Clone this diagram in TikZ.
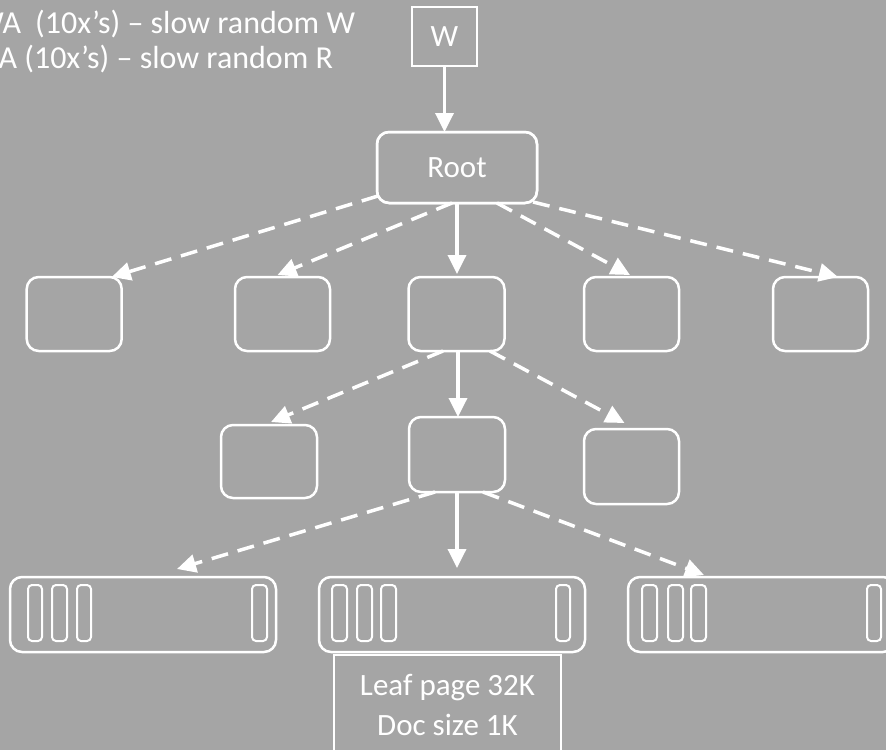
\documentclass[tikz,border=0pt]{standalone}
\usepackage{fontspec}
\setmainfont{Carlito}
\usetikzlibrary{arrows.meta,calc}
\definecolor{bg}{RGB}{165,165,165}
\begin{document}
\begin{tikzpicture}[x=1pt,y=-1pt,
  txt/.style={text=white,font=\fontsize{31}{40}\selectfont,inner sep=0pt,outer sep=0pt},
  box/.style={draw=white,line width=2.5pt,rounded corners=12pt,minimum width=95pt,minimum height=74pt,inner sep=0pt,outer sep=0pt},
  leaf/.style={box,minimum width=266pt,minimum height=75pt},
  plainbox/.style={draw=white,line width=1.5pt,inner sep=0pt,outer sep=0pt,text=white,font=\fontsize{31}{40}\selectfont},
  slot/.style={draw=white,line width=2pt,rounded corners=4pt},
  link/.style={draw=white,line width=3.5pt,-{Triangle[length=19pt,width=18pt]}},
  dlink/.style={link,dash pattern=on 17pt off 10pt}
]
\useasboundingbox (0,0) rectangle (886,750);
\fill[bg] (0,0) rectangle (886,750);
\clip (0,0) rectangle (886,750);

% top-left text
\node[txt,font=\fontsize{32}{40}\selectfont,anchor=base east] (t1) at (355,33) {WA\hspace{7pt} (10x’s) – slow random W};
\node[txt,font=\fontsize{32}{40}\selectfont,anchor=base east] (t2) at (333,68) {RA (10x’s) – slow random R};

% W and root
\node[plainbox,minimum width=65pt,minimum height=59pt] (w) at (444.5,36.5) {W};
\node[box,minimum width=160pt,minimum height=71pt,txt] (root) at (457,167.5) {Root};
\node[box,draw=white,line width=2.5pt,minimum width=160pt,minimum height=71pt] at (457,167.5) {};

% level 1
\node[box] (b1) at (74.2,314) {};
\node[box] (b2) at (282.5,314) {};
\node[box,minimum width=96pt] (b3) at (456.5,314) {};
\node[box] (b4) at (631.5,314) {};
\node[box] (b5) at (820.5,314) {};

% level 2
\node[box,minimum width=96pt,minimum height=73pt] (c1) at (269,461.5) {};
\node[box,minimum width=96pt,minimum height=75pt] (c2) at (457,454.5) {};
\node[box,minimum width=95pt,minimum height=75pt] (c3) at (631.5,466.5) {};

% leaves
\node[leaf] (l1) at (143,614.5) {};
\node[leaf] (l2) at (452,614.5) {};
\node[leaf,minimum width=267pt] (l3) at (761.5,614.5) {};

% slots
\foreach \a/\b in {28/42,52/67,77/91,252/267,
                   332/347,357/372,381/396,556/570,
                   642/657,668/683,691/706,867/881}
  \draw[slot] (\a,585) rectangle (\b,641);

% info box
\node[plainbox,minimum width=227pt,minimum height=100pt,align=center] (info) at (447.5,705)
  {Leaf page 32K\\Doc size 1K};

% connectors
\draw[link] (w.south) -- (w.south |- root.north);

\draw[dlink] ($(root.south west)+(1,-7)$) -- ($(b1.north east)+(-10,0)$);
\draw[dlink] ($(root.south)+(-5,0)$) -- ($(b2.north)+(-5,-2)$);
\draw[link] (root.south) -- ($(root.south |- b3.north)+(0,-3)$);
\draw[dlink] ($(root.south)+(40,0)$) -- ($(b4.north)+(-1.5,-2)$);
\draw[dlink] ($(root.south east)+(-4,-1)$) -- ($(b5.north east)+(-30,0)$);

\draw[dlink] ($(b3.south)+(-13.5,0)$) -- ($(c1.north)+(2,-3)$);
\draw[link] ($(b3.south)+(1.5,0)$) -- ($(b3.south |- c2.north)+(1.5,0)$);
\draw[dlink] ($(b3.south)+(33.5,0)$) -- ($(c3.north)+(-7,-6)$);

\draw[dlink] ($(c2.south)+(-22,0)$) -- ($(l1.north)+(34,-8)$);
\draw[link] (c2.south) -- ($(c2.south |- l2.north)+(0,-9)$);
\draw[dlink] ($(c2.south)+(26,0)$) -- ($(l3.north west)+(76,-2)$);
\end{tikzpicture}
\end{document}
